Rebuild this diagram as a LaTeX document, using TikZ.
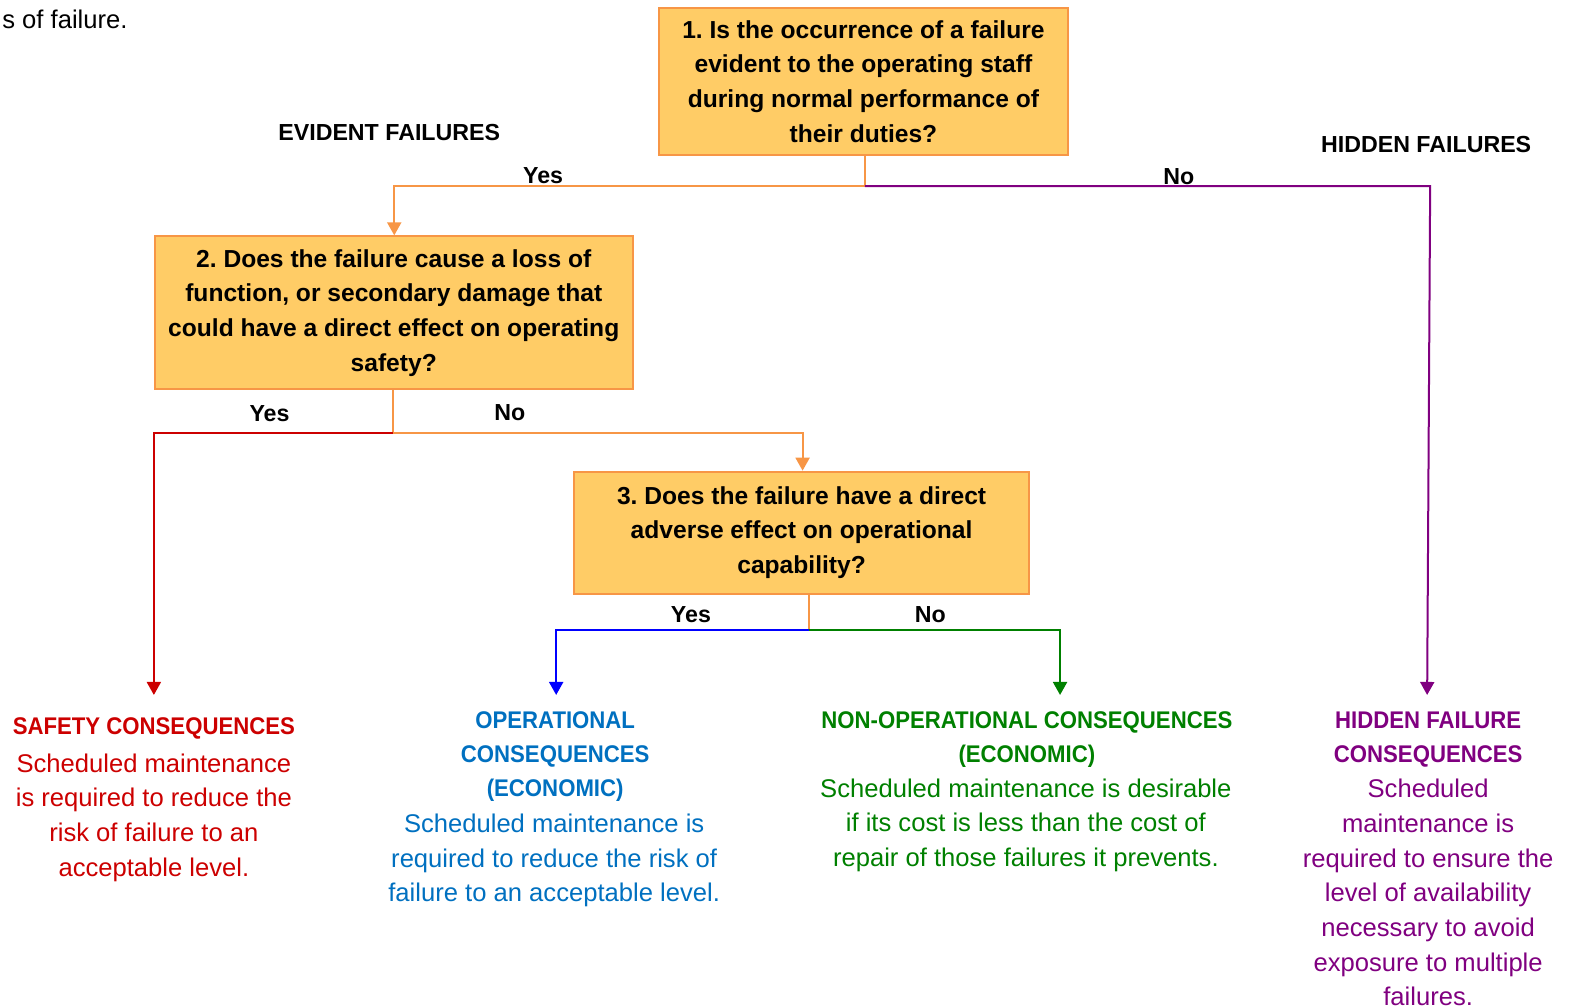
\documentclass[tikz,border=0pt]{standalone}
\usepackage{fontspec}
\setmainfont{Liberation Sans}
\newfontfamily\headfont{Liberation Sans}[FakeStretch=0.92]
\usetikzlibrary{arrows.meta}
\frenchspacing
\definecolor{boxfill}{HTML}{FFCC66}
\definecolor{boxedge}{HTML}{F79646}
\definecolor{cred}{HTML}{CC0000}
\definecolor{cblue}{HTML}{0000FF}
\definecolor{opblue}{HTML}{0070C0}
\definecolor{cgreen}{HTML}{008000}
\definecolor{cpurple}{HTML}{800080}
\tikzset{
  qbox/.style={draw=boxedge, line width=2pt, fill=boxfill, align=center, inner sep=0pt,
    font=\fontsize{24.6}{34.7}\selectfont\bfseries},
  lbl/.style={font=\fontsize{23.2}{27}\selectfont\bfseries, inner sep=0pt},
  conhead/.style={align=center, inner sep=0pt, font=\headfont\fontsize{24.1}{34.2}\selectfont\bfseries},
  conbody/.style={align=center, inner sep=0pt, font=\fontsize{25.6}{34.7}\selectfont},
  link/.style={line width=2pt},
  tip/.style={-{Triangle[width=14pt,length=13pt]}}
}
\begin{document}
\begin{tikzpicture}[x=1.0057pt,y=-1.0057pt]
\useasboundingbox (0,0) rectangle (1568,1002);

\node[anchor=east, inner sep=0pt, font=\fontsize{25.6}{30}\selectfont] (intro) at (127,19) {s of failure.};

% question boxes
\node[qbox, minimum width=409pt, minimum height=147pt] (b1) at (858.5,81)
  {1. Is the occurrence of a failure\\evident to the operating staff\\during normal performance of\\their duties?};
\node[qbox, minimum width=478pt, minimum height=153pt] (b2) at (391.5,311)
  {2. Does the failure cause a loss of\\function, or secondary damage that\\could have a direct effect on operating\\safety?};
\node[qbox, minimum width=455pt, minimum height=122pt] (b3) at (797,529.5)
  {3. Does the failure have a direct\\adverse effect on operational\\capability?};

% junction coordinates
\coordinate (j1) at (860,185);
\coordinate (j2) at (391,431);
\coordinate (j3) at (804,626);
\coordinate (t2) at (392,234);
\coordinate (t3) at (798,468);
\coordinate (safe) at (153,691);
\coordinate (oper) at (553,691);
\coordinate (nonop) at (1054,691);
\coordinate (hid) at (1419,691);

% connectors
\draw[link, boxedge] (b1.south -| j1) -- (j1);
\draw[link, boxedge, tip] (j1) -| (t2);
\draw[link, cpurple, tip] (j1) -- (1422,185) -- (hid);
\draw[link, boxedge] (b2.south -| j2) -- (j2);
\draw[link, cred, tip] (j2) -| (safe);
\draw[link, boxedge, tip] (j2) -| (t3);
\draw[link, boxedge] (b3.south -| j3) -- (j3);
\draw[link, cblue, tip] (j3) -| (oper);
\draw[link, cgreen, tip] (j3) -| (nonop);

% labels
\node[lbl] (ev) at (387,132) {EVIDENT FAILURES};
\node[lbl] (hf) at (1418,144) {HIDDEN FAILURES};
\node[lbl] (y1) at (540,175) {Yes};
\node[lbl] (n1) at (1172,176) {No};
\node[lbl] (y2) at (268,411) {Yes};
\node[lbl] (n2) at (507,410) {No};
\node[lbl] (y3) at (687,611) {Yes};
\node[lbl] (n3) at (925,611) {No};

% consequences
\node[conhead, text=cred] (sh) at (153,724) {SAFETY CONSEQUENCES};
\node[conbody, text=cred] (sb) at (153,813)
  {Scheduled maintenance\\is required to reduce the\\risk of failure to an\\acceptable level.};

\node[conhead, text=opblue] (oh) at (552,752) {OPERATIONAL\\CONSEQUENCES\\(ECONOMIC)};
\node[conbody, text=opblue] (ob) at (551,855.5)
  {Scheduled maintenance is\\required to reduce the risk of\\failure to an acceptable level.};

\node[conhead, text=cgreen] (nh) at (1021,735) {NON-OPERATIONAL CONSEQUENCES\\(ECONOMIC)};
\node[conbody, text=cgreen] (nb) at (1020,820.5)
  {Scheduled maintenance is desirable\\if its cost is less than the cost of\\repair of those failures it prevents.};

\node[conhead, text=cpurple] (hh) at (1420,735) {HIDDEN FAILURE\\CONSEQUENCES};
\node[conbody, text=cpurple] (hb) at (1420,887.5)
  {Scheduled\\maintenance is\\required to ensure the\\level of availability\\necessary to avoid\\exposure to multiple\\failures.};
\end{tikzpicture}
\end{document}
